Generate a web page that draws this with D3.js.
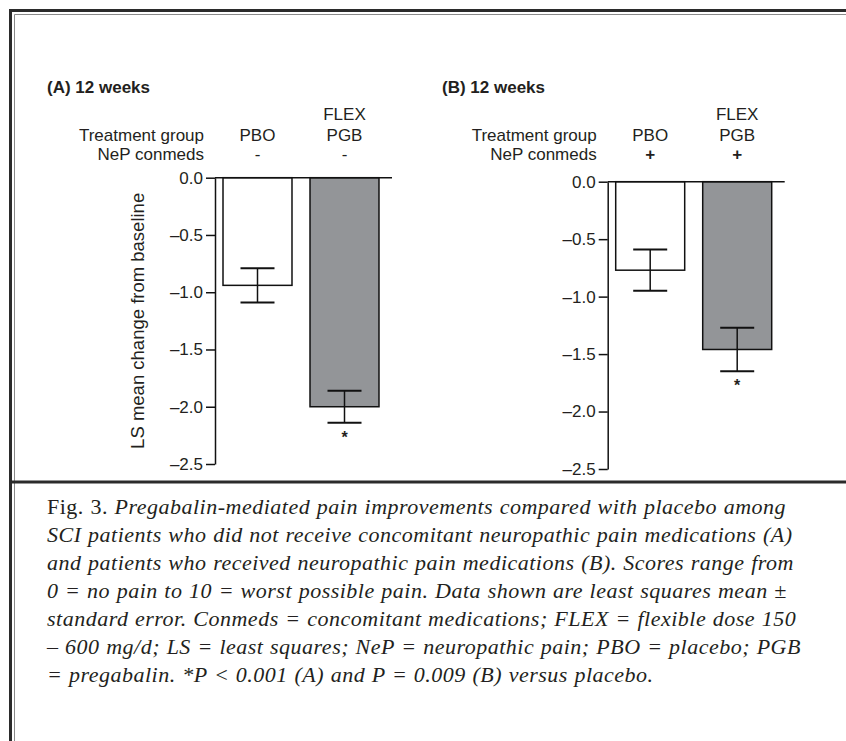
<!DOCTYPE html>
<html lang="en">
<head>
<meta charset="UTF-8">
<title>Pregabalin Fig. 3</title>
<script src="https://d3js.org/d3.v7.min.js"></script>
<style>
    body { margin: 0; background: white; }
    svg { display: block; }
    .lbl { font-family: 'Liberation Sans', Arial, sans-serif; fill: #231f20; }
    .cap { font-family: 'Liberation Serif', 'Times New Roman', serif; fill: #231f20; letter-spacing: 0.5px; word-spacing: 0.6px; }
</style>
</head>
<body>
<svg width="846" height="741"></svg>
<script>
// data
const panelTitles = ["(A) 12 weeks", "(B) 12 weeks"];
const groups = ["PBO", "FLEX PGB"];
const conmeds = ["-", "+"];
const meansA = [-0.94, -2.00];
const seA = [0.15, 0.14];
const meansB = [-0.77, -1.46];
const seB = [0.18, 0.19];
const stars = ["", "*"];
const yTicks = [0, -0.5, -1, -1.5, -2, -2.5];
const captionLines = [
    ["Fig. 3. ", "Pregabalin-mediated pain improvements compared with placebo among"],
    ["", "SCI patients who did not receive concomitant neuropathic pain medications (A)"],
    ["", "and patients who received neuropathic pain medications (B). Scores range from"],
    ["", "0 = no pain to 10 = worst possible pain. Data shown are least squares mean \u00b1"],
    ["", "standard error. Conmeds = concomitant medications; FLEX = flexible dose 150"],
    ["", "\u2013 600 mg/d; LS = least squares; NeP = neuropathic pain; PBO = placebo; PGB"],
    ["", "= pregabalin. *P < 0.001 (A) and P = 0.009 (B) versus placebo."]
];

const svg = d3.select("svg");

// frame
svg.append("path").attr("d", "M10.5,741V10.5H846")
    .attr("fill", "none").attr("stroke", "#2b2b2b").attr("stroke-width", 3);
svg.append("path").attr("d", "M14.5,741V14.5H846")
    .attr("fill", "none").attr("stroke", "#8a8a8a").attr("stroke-width", 1);
svg.append("line").attr("x1", 12).attr("x2", 846).attr("y1", 482).attr("y2", 482)
    .attr("stroke", "#2b2b2b").attr("stroke-width", 3);

const panels = [
    {title: panelTitles[0], means: meansA, se: seA, sign: conmeds[0], titleX: 47, axisX: 215, top: 177.7, bottom: 464},
    {title: panelTitles[1], means: meansB, se: seB, sign: conmeds[1], titleX: 442, axisX: 607.7, top: 181.7, bottom: 469}
];

const fmt = d => d === 0 ? "0.0" : "\u2013" + d3.format(".1f")(-d);

panels.forEach((p, pi) => {
    const g = svg.append("g");
    const y = d3.scaleLinear().domain([0, -2.5]).range([p.top, p.bottom]);
    const x = d3.scaleBand().domain(groups)
        .range([p.axisX, p.axisX + 172])
        .paddingInner(0.207).paddingOuter(0.092);

    g.append("text").attr("class", "lbl")
        .attr("x", p.titleX).attr("y", 93)
        .style("font-size", "17px").style("font-weight", "bold")
        .text(p.title);

    // header rows
    const right = p.axisX - 11;
    g.append("text").attr("class", "lbl").attr("x", right).attr("y", 141)
        .attr("text-anchor", "end").style("font-size", "17px").text("Treatment group");
    g.append("text").attr("class", "lbl").attr("x", right).attr("y", 159.5)
        .attr("text-anchor", "end").style("font-size", "17px").text("NeP conmeds");

    groups.forEach(gr => {
        const cx = x(gr) + x.bandwidth() / 2;
        const parts = gr.split(" ");
        parts.forEach((t, i) => {
            g.append("text").attr("class", "lbl")
                .attr("x", cx).attr("y", 141 - (parts.length - 1 - i) * 21)
                .attr("text-anchor", "middle").style("font-size", "17px").text(t);
        });
        g.append("text").attr("class", "lbl")
            .attr("x", cx).attr("y", 160)
            .attr("text-anchor", "middle")
            .style("font-size", "17px")
            .style("font-weight", p.sign === "+" ? "bold" : "normal")
            .text(p.sign);
    });

    // bars
    g.selectAll("rect.bar").data(p.means).join("rect")
        .attr("class", "bar")
        .attr("x", (d, i) => x(groups[i]))
        .attr("y", y(0))
        .attr("width", x.bandwidth())
        .attr("height", d => y(d) - y(0))
        .attr("fill", (d, i) => i === 0 ? "white" : "#939598")
        .attr("stroke", "#111")
        .attr("stroke-width", 1.5);

    // error bars
    p.means.forEach((m, i) => {
        const cx = x(groups[i]) + x.bandwidth() / 2;
        const hi = m + p.se[i], lo = m - p.se[i];
        g.append("line").attr("x1", cx).attr("x2", cx)
            .attr("y1", y(hi)).attr("y2", y(lo))
            .attr("stroke", "#111").attr("stroke-width", 1.5);
        [hi, lo].forEach(v => {
            g.append("line").attr("x1", cx - 17).attr("x2", cx + 17)
                .attr("y1", y(v)).attr("y2", y(v))
                .attr("stroke", "#111").attr("stroke-width", 2);
        });
        if (stars[i]) {
            g.append("text").attr("class", "lbl")
                .attr("x", cx).attr("y", y(lo) + 20)
                .attr("text-anchor", "middle").style("font-size", "16px")
                .style("font-weight", "bold")
                .text(stars[i]);
        }
    });

    // zero line
    g.append("line").attr("x1", p.axisX).attr("x2", p.axisX + 177)
        .attr("y1", y(0)).attr("y2", y(0))
        .attr("stroke", "#111").attr("stroke-width", 1.5);

    // y axis
    const ax = g.append("g")
        .attr("transform", `translate(${p.axisX},0)`)
        .call(d3.axisLeft(y).tickValues(yTicks).tickFormat(fmt).tickSize(9).tickSizeOuter(0).tickPadding(3));
    ax.select(".domain").attr("stroke", "#111").attr("stroke-width", 1.5);
    ax.selectAll(".tick line").attr("stroke", "#111").attr("stroke-width", 1.5);
    ax.selectAll(".tick text")
        .attr("fill", "#231f20")
        .style("font-family", "'Liberation Sans', Arial, sans-serif")
        .style("font-size", "17px");

    if (pi === 0) {
        g.append("text").attr("class", "lbl")
            .attr("transform", `translate(144,${(p.top + p.bottom) / 2}) rotate(-90)`)
            .attr("text-anchor", "middle")
            .style("font-size", "18.5px")
            .text("LS mean change from baseline");
    }
});

// caption
const cap = svg.append("g");
captionLines.forEach((ln, i) => {
    const t = cap.append("text").attr("class", "cap")
        .attr("x", 47).attr("y", 514 + i * 28)
        .style("font-size", "22px");
    if (ln[0]) t.append("tspan").text(ln[0]);
    t.append("tspan").style("font-style", "italic").text(ln[1]);
});
</script>
</body>
</html>
